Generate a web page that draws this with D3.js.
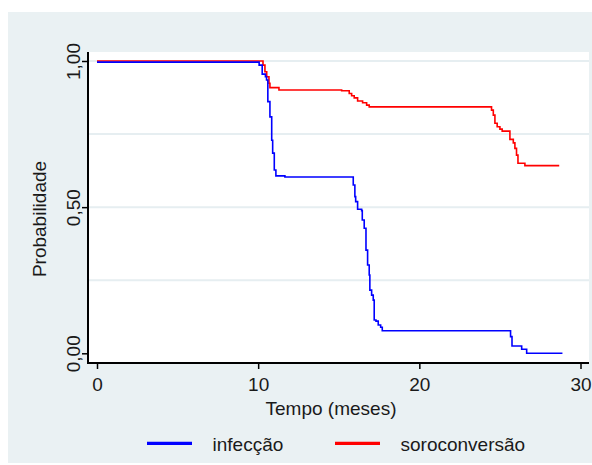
<!DOCTYPE html>
<html>
<head>
<meta charset="utf-8">
<script src="https://cdn.jsdelivr.net/npm/d3@7"></script>
<style>
  html, body { margin: 0; padding: 0; background: #fff; }
  svg { display: block; }
  text { font-family: "Liberation Sans", Arial, sans-serif; fill: #1a1a1a; }
</style>
</head>
<body>
<svg id="chart" width="592" height="465"></svg>
<script>
// Kaplan-Meier steps: [months, probability]
const infeccao = [
  [0, 0.996], [10.06, 0.986], [10.25, 0.955], [10.45, 0.946], [10.52, 0.935],
  [10.6, 0.861], [10.73, 0.809], [10.84, 0.729], [10.9, 0.685], [11.0, 0.627],
  [11.1, 0.607], [11.66, 0.603], [15.9, 0.576], [16.0, 0.536], [16.05, 0.519],
  [16.17, 0.493], [16.42, 0.488], [16.46, 0.456], [16.58, 0.428], [16.69, 0.353],
  [16.79, 0.302], [16.89, 0.268], [16.93, 0.216], [17.04, 0.199], [17.14, 0.182],
  [17.2, 0.114], [17.31, 0.110], [17.45, 0.097], [17.6, 0.089], [17.7, 0.077],
  [25.66, 0.057], [25.75, 0.025], [26.35, 0.014], [26.66, 0.0], [28.88, 0.0]
];
const soroconversao = [
  [0, 1.0], [10.3, 0.986], [10.42, 0.963], [10.53, 0.946], [10.67, 0.924],
  [10.73, 0.909], [11.29, 0.901], [15.18, 0.898], [15.65, 0.889], [15.8, 0.881],
  [15.96, 0.874], [16.17, 0.863], [16.48, 0.857], [16.73, 0.849], [16.89, 0.843],
  [24.48, 0.832], [24.59, 0.815], [24.69, 0.787], [24.83, 0.775], [25.0, 0.767],
  [25.14, 0.76], [25.62, 0.732], [25.83, 0.72], [25.93, 0.701], [26.03, 0.678],
  [26.12, 0.65], [26.55, 0.642], [28.68, 0.642]
];
const seriesNames = ["infecção", "soroconversão"];
const seriesColors = ["#0000ff", "#ff0000"];
const xTicks = [0, 10, 20, 30];
const yTicks = [0, 0.5, 1];
const yGrid = [0.25, 0.5, 0.75, 1];

const svg = d3.select("#chart");

// outer graph region
svg.append("rect").attr("x", 8).attr("y", 12).attr("width", 584).attr("height", 451)
  .attr("fill", "#eaf1f3");

// plot region
const pl = 88, pr = 589, pt = 52, pb = 363;
svg.append("rect").attr("x", pl).attr("y", pt)
  .attr("width", pr - pl).attr("height", pb - pt).attr("fill", "#fff");

const x = d3.scaleLinear().domain([0, 30]).range([97, 580.5]);
const y = d3.scaleLinear().domain([0, 1]).range([353.3, 61]);

// gridlines
svg.append("g").selectAll("line").data(yGrid).join("line")
  .attr("x1", pl).attr("x2", pr)
  .attr("y1", d => y(d)).attr("y2", d => y(d))
  .attr("stroke", "#e6eef1").attr("stroke-width", 2);

// curves
const line = d3.line().x(d => x(d[0])).y(d => y(d[1])).curve(d3.curveStepAfter);
[soroconversao, infeccao].forEach((s, i) => {
  svg.append("path").datum(s).attr("d", line)
    .attr("fill", "none").attr("stroke", i === 0 ? seriesColors[1] : seriesColors[0])
    .attr("stroke-width", 1.6);
});

// axes
const yAxis = svg.append("g").attr("transform", `translate(${pl},0)`)
  .call(d3.axisLeft(y).tickValues(yTicks).tickSize(6).tickFormat(d => d3.format(".2f")(d).replace(".", ",")));
yAxis.select(".domain").remove();
yAxis.selectAll(".tick line").attr("stroke", "#000").attr("stroke-width", 1.5);
yAxis.selectAll(".tick text")
  .attr("transform", "rotate(-90)").attr("x", 0).attr("y", -8).attr("dy", 0)
  .attr("text-anchor", "middle").style("font-size", "19px").style("font-family", null).attr("fill", "#1a1a1a");

const xAxis = svg.append("g").attr("transform", `translate(0,${pb})`)
  .call(d3.axisBottom(x).tickValues(xTicks).tickSize(6).tickFormat(d3.format("d")));
xAxis.select(".domain").remove();
xAxis.selectAll(".tick line").attr("stroke", "#000").attr("stroke-width", 1.5);
xAxis.selectAll(".tick text").attr("y", 28).attr("dy", 0)
  .style("font-size", "19px").style("font-family", null).attr("fill", "#1a1a1a");

// axis lines
svg.append("line").attr("x1", pl).attr("x2", pl).attr("y1", pt).attr("y2", pb + 1)
  .attr("stroke", "#000").attr("stroke-width", 2);
svg.append("line").attr("x1", pl - 1).attr("x2", pr).attr("y1", pb).attr("y2", pb)
  .attr("stroke", "#000").attr("stroke-width", 2);

// titles
svg.append("text").attr("transform", "translate(46,219) rotate(-90)")
  .attr("text-anchor", "middle").style("font-size", "19px").text("Probabilidade");
svg.append("text").attr("x", 331).attr("y", 415)
  .attr("text-anchor", "middle").style("font-size", "19px").text("Tempo (meses)");

// legend
const legX = [147, 335];
seriesNames.forEach((name, i) => {
  svg.append("line").attr("x1", legX[i]).attr("x2", legX[i] + 45)
    .attr("y1", 443.3).attr("y2", 443.3)
    .attr("stroke", seriesColors[i]).attr("stroke-width", 3.3);
  svg.append("text").attr("x", legX[i] + 65.5).attr("y", 450.5)
    .style("font-size", "19px").text(name);
});
</script>
</body>
</html>
